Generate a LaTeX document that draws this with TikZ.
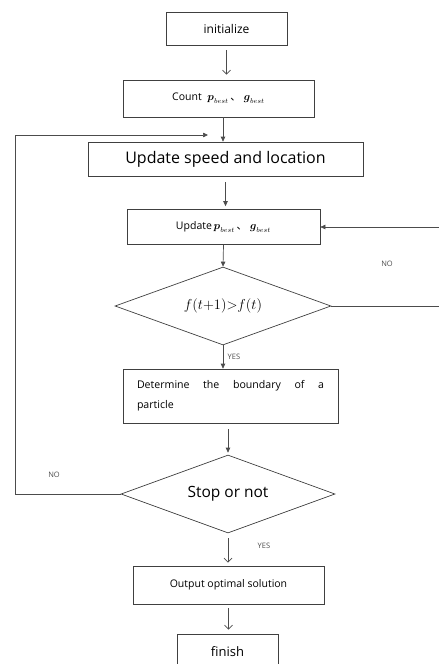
\documentclass[tikz,border=0pt]{standalone}
\usepackage{amsmath}
\usepackage{fontspec}
\setmainfont{Open Sans}
\newfontfamily\cjk{Noto Sans CJK SC}
\usetikzlibrary{shapes.geometric,arrows.meta}

\begin{document}
\begin{tikzpicture}[x=1pt,y=-1pt,
    box/.style={draw=black!75,line width=0.7pt,minimum height=35pt,inner sep=2pt,font=\fontsize{10.5}{13}\selectfont},
    choice/.style={diamond,aspect=2.8,draw=black!75,line width=0.7pt,inner sep=0pt,minimum height=78pt},
    flow/.style={draw=black!70,line width=0.7pt,-{Triangle[length=5pt,width=4.5pt]}},
    openflow/.style={draw=black!70,line width=0.7pt,-{Straight Barb[length=4pt,width=8pt]}},
    tag/.style={font=\fontsize{7.5}{9}\selectfont,text=black!70}]
    \useasboundingbox (0,0) rectangle (439,664);
    % boxes and decisions
    \node[box,minimum width=121pt,minimum height=33pt,font=\fontsize{12}{14}\selectfont] (init) at (226.5,28.5) {initialize};
    \node[box,minimum width=191pt,minimum height=37pt] (count) at (218.5,98.5)
        {Count \;$\boldsymbol{p}_{best}$\,{\cjk 、}\;$\boldsymbol{g}_{best}$};
    \node[box,minimum width=275pt,minimum height=34pt,font=\fontsize{16}{18}\selectfont] (speed) at (225.5,159)
        {Update speed and location};
    \node[box,minimum width=193pt] (upd) at (223.5,227)
        {Update\,$\boldsymbol{p}_{best}$\,{\cjk 、}\;$\boldsymbol{g}_{best}$};
    \node[choice,minimum width=216pt,font=\fontsize{14.4}{17}\selectfont] (cmp) at (223,306) {$f(t{+}1){>}f(t)$};
    \node[box,minimum width=215pt,minimum height=54pt,text width=187pt,align=justify,font=\fontsize{10.6}{20}\selectfont] (bound) at (230.5,396)
        {Determine the boundary of a\linebreak particle};
    \node[choice,minimum width=214pt,font=\fontsize{15.5}{18}\selectfont] (stop) at (228,494) {Stop or not};
    \node[box,minimum width=191pt,minimum height=38pt] (out) at (228.5,585) {Output optimal solution};
    \node[box,minimum width=101pt,font=\fontsize{13}{15}\selectfont] (fin) at (227.5,651.5) {finish};
    % loop ends
    \coordinate (back) at (208,135);
    \coordinate (rgt) at (441,306);
    % main line
    \draw[openflow,shorten <=5pt,shorten >=5pt] (init.south) -- (init.south |- count.north);
    \draw[flow] ([xshift=4.5pt]count.south) -- ([xshift=4.5pt]count.south |- speed.north);
    \draw[flow,shorten <=6pt,shorten >=3pt] (speed.south) -- (speed.south |- upd.north);
    \draw[flow] (upd.south) -- (cmp.north);
    \draw[flow] (cmp.south) -- (cmp.south |- bound.north) node[tag,midway,right=1pt] (yes1) {YES};
    \draw[flow,shorten <=6pt,shorten >=2pt] (stop.north |- bound.south) -- (stop.north);
    \draw[openflow,shorten <=5pt,shorten >=3pt] (stop.south) -- (stop.south |- out.north)
        node[tag,pos=0.4,right=26pt] (yes2) {YES};
    \draw[openflow,shorten <=4pt,shorten >=4pt] (out.south) -- (out.south |- fin.north);
    % feedback loops
    \draw[flow] (cmp.east) -- (rgt) |- (upd.east);
    \node[tag] (no1) at (387,264) {NO};
    \draw[flow] (stop.west) -- ++(-105,0) |- (back);
    \node[tag] (no2) at (54,475) {NO};
\end{tikzpicture}
\end{document}
